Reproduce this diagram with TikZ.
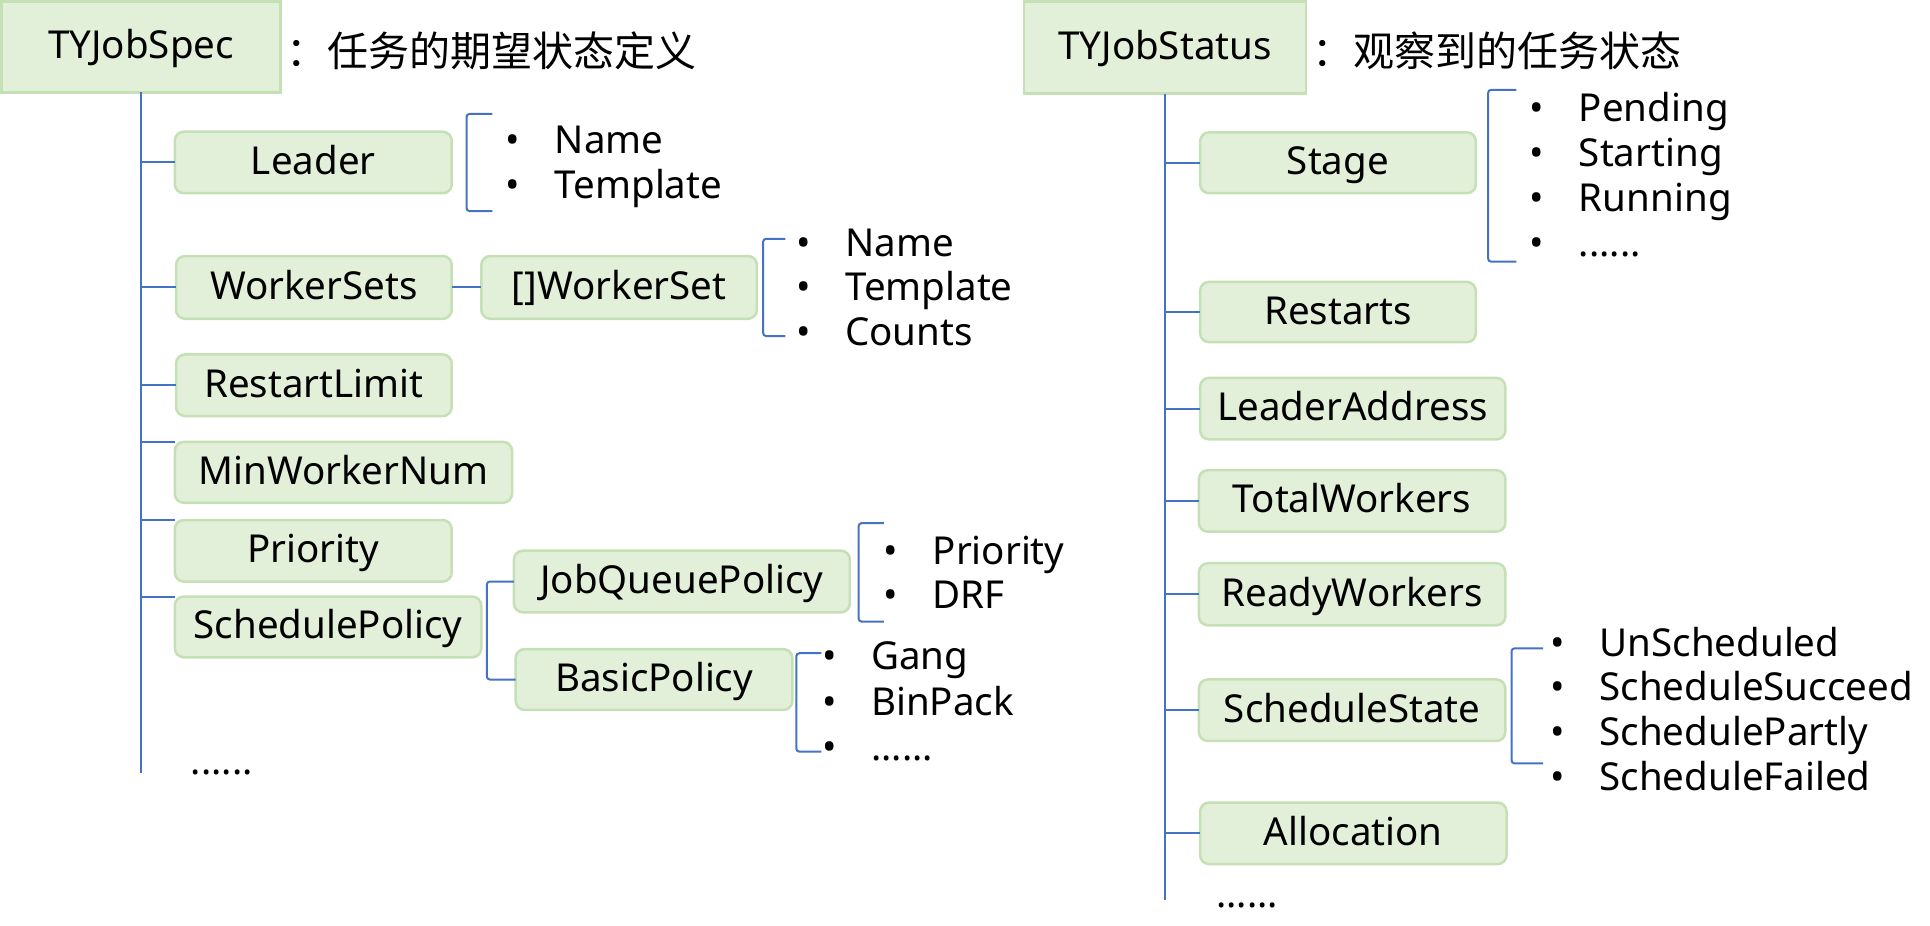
\documentclass[tikz,border=0pt]{standalone}
\usepackage{fontspec}
\setmainfont{Noto Sans}
\newfontfamily\cjk{Noto Sans CJK SC}
\definecolor{boxfill}{HTML}{E2F0D9}
\definecolor{boxline}{HTML}{C5E0B4}
\definecolor{linkblue}{HTML}{4472C4}
\newcommand\bitem[1]{\makebox[49pt][l]{•}#1}
\def\u{1.2309pt}
\begin{document}
\begin{tikzpicture}[x=1.2309pt,y=-1.2309pt,
  every node/.style={inner sep=0pt, outer sep=0pt},
  txt/.style={font=\fontsize{38.5}{46}\selectfont},
  sz/.style 2 args={minimum width=#1*\u, minimum height=#2*\u},
  box/.style={txt, draw=boxline, fill=boxfill, line width=2.5pt, rounded corners=9pt, text height=31pt, text depth=7pt},
  rootbox/.style={txt, draw=boxline, fill=boxfill, line width=2.5pt, text height=31pt, text depth=7pt},
  lnk/.style={draw=linkblue, line width=2pt},
  brk/.style={draw=linkblue, line width=2pt, rounded corners=3pt},
  itm/.style={txt, anchor=base west},
  ttl/.style={font=\fontsize{41}{48}\selectfont\cjk, anchor=base west}]
\useasboundingbox (0,0) rectangle (1568,752.3);

% ---------- left tree ----------
\node[rootbox, sz={226.8}{73.8}] (spec) at (114.6,38.1) {TYJobSpec};
\node[ttl] (spectitle) at (233,54) {：任务的期望状态定义};
\coordinate (specend) at (114,628);
\draw[lnk] (spec.south) -- (spec.south |- specend);

\node[box, sz={225}{50}] (leader) at (254.5,132) {Leader};
\node[box, sz={224}{51}] (workersets) at (255,233.5) {WorkerSets};
\node[box, sz={224}{51}] (workerset) at (503,233.5) {[]WorkerSet};
\node[box, sz={224}{50}] (restartlimit) at (255,313) {RestartLimit};
\node[box, sz={274}{49.5}] (minworker) at (279,383.75) {MinWorkerNum};
\node[box, sz={225}{50}] (priority) at (254.5,447.5) {Priority};
\node[box, sz={249}{49.3}] (schedpolicy) at (266.5,509.35) {SchedulePolicy};
\node[box, sz={273}{50.1}] (jqp) at (554,472.45) {JobQueuePolicy};
\node[box, sz={224.7}{49.5}] (basic) at (531.35,552.05) {BasicPolicy};

\draw[lnk] (leader.west -| spec.south) -- (leader.west);
\draw[lnk] (workersets.west -| spec.south) -- (workersets.west);
\draw[lnk] (workersets.east) -- (workerset.west);
\draw[lnk] (restartlimit.west -| spec.south) -- (restartlimit.west);
\draw[lnk] (minworker.north west -| spec.south) -- (minworker.north west);
\draw[lnk] (priority.north west -| spec.south) -- (priority.north west);
\draw[lnk] (schedpolicy.north west -| spec.south) -- (schedpolicy.north west);
\draw[brk] (jqp.west) -- (395.5,472.45) |- (basic.west);

% leader list
\draw[brk] (400,92.6) -- (379,92.6) -- (379,171.5) -- (400,171.5);
\node[itm] (la) at (411,124.5) {\bitem{Name}};
\node[itm] (lb) at (411,161) {\bitem{Template}};
% workerset list
\draw[brk] (638,194) -- (620,194) -- (620,273) -- (638,273);
\node[itm] (wa) at (647,208.5) {\bitem{Name}};
\node[itm] (wb) at (647,244.5) {\bitem{Template}};
\node[itm] (wc) at (647,280.5) {\bitem{Counts}};
% jqp list
\draw[brk] (718,425) -- (697.6,425) -- (697.6,505) -- (718,505);
\node[itm] (ja) at (718,459) {\bitem{Priority}};
\node[itm] (jb) at (718,494.5) {\bitem{DRF}};
% basic list
\draw[brk] (667.4,530.7) -- (647,530.7) -- (647,610.7) -- (667.4,610.7);
\node[itm] (ba) at (668,544) {\bitem{Gang}};
\node[itm] (bb) at (668,581) {\bitem{BinPack}};
\node[itm] (bc) at (668,617.5) {\bitem{......}};
\node[itm] (specmore) at (155,629) {......};

% ---------- right tree ----------
\node[rootbox, sz={229}{74.8}] (status) at (946.5,38.6) {TYJobStatus};
\node[ttl] (statustitle) at (1066,54) {：观察到的任务状态};
\coordinate (statusend) at (946,731);
\draw[lnk] (status.south) -- (status.south |- statusend);

\node[box, sz={224}{49.5}] (stage) at (1087,132.25) {Stage};
\node[box, sz={224}{49}] (restarts) at (1087,253.5) {Restarts};
\node[box, sz={248}{50}] (leaderaddr) at (1099,332) {LeaderAddress};
\node[box, sz={249}{50}] (total) at (1098.5,407) {TotalWorkers};
\node[box, sz={249}{50.4}] (ready) at (1098.5,482.8) {ReadyWorkers};
\node[box, sz={249}{50}] (schedstate) at (1098.5,577) {ScheduleState};
\node[box, sz={249}{50}] (alloc) at (1099.5,677) {Allocation};

\foreach \n in {stage,restarts,leaderaddr,total,ready,schedstate,alloc}
  \draw[lnk] (\n.west -| status.south) -- (\n.west);

% stage list
\draw[brk] (1232,73) -- (1209,73) -- (1209,212.6) -- (1232,212.6);
\node[itm] (sa) at (1243,98.8) {\bitem{Pending}};
\node[itm] (sb) at (1243,135.4) {\bitem{Starting}};
\node[itm] (sc) at (1243,172) {\bitem{Running}};
\node[itm] (sd) at (1243,208.5) {\bitem{......}};
% schedule state list
\draw[brk] (1253.6,526.7) -- (1228,526.7) -- (1228,620.2) -- (1253.6,620.2);
\node[itm] (ua) at (1259.7,533) {\bitem{UnScheduled}};
\node[itm] (ub) at (1259.7,569.5) {\bitem{ScheduleSucceed}};
\node[itm] (uc) at (1259.7,605.8) {\bitem{SchedulePartly}};
\node[itm] (ud) at (1259.7,642.4) {\bitem{ScheduleFailed}};
\node[itm] (statusmore) at (988,737) {......};
\end{tikzpicture}
\end{document}
